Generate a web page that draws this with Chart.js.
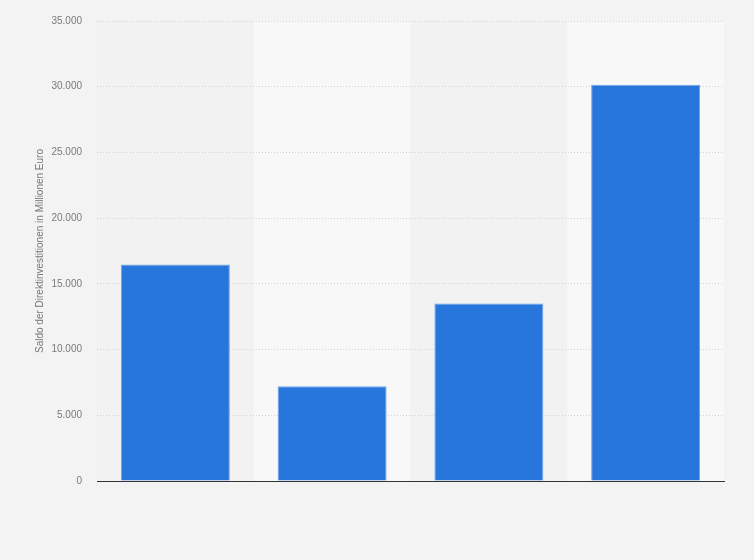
<!DOCTYPE html>
<html>
<head>
<meta charset="utf-8">
<script src="https://cdn.jsdelivr.net/npm/chart.js@4/dist/chart.umd.min.js"></script>
<style>
  html, body { margin: 0; padding: 0; background: #f3f3f3; }
  #wrap { width: 754px; height: 560px; }
</style>
</head>
<body>
<div id="wrap"><canvas id="chart"></canvas></div>
<script>
// categories are not labelled in the picture
const categories = ['', ' ', '  ', '   '];
const saldo = [16480, 7210, 13510, 30140];
const yTicks = [0, 5000, 10000, 15000, 20000, 25000, 30000, 35000];
const yTitle = 'Saldo der Direktinvestitionen in Millionen Euro';

function formatDe(v) {
    return String(v).replace(/\B(?=(\d{3})+(?!\d))/g, '.');
}

// background and alternating column bands
const bandPlugin = {
    id: 'bands',
    beforeDraw(chart) {
        const ctx = chart.ctx;
        const area = chart.chartArea;
        const x = chart.scales.x;
        ctx.save();
        ctx.fillStyle = '#f3f3f3';
        ctx.fillRect(0, 0, chart.width, chart.height);
        const step = (area.right - area.left) / categories.length;
        categories.forEach((c, i) => {
            const mid = x.getPixelForValue(i);
            ctx.fillStyle = i % 2 === 1 ? '#f8f8f8' : '#f2f2f2';
            ctx.fillRect(mid - step / 2, area.top, step, area.bottom - area.top);
        });
        ctx.restore();
    }
};

new Chart(document.getElementById('chart'), {
    type: 'bar',
    data: {
        labels: categories,
        datasets: [{
            data: saldo,
            backgroundColor: '#2776db',
            borderColor: '#6ea3ea',
            borderWidth: 1,
            barPercentage: 0.695,
            categoryPercentage: 1.0
        }]
    },
    options: {
        responsive: true,
        maintainAspectRatio: false,
        animation: false,
        layout: { padding: { top: 20, right: 30, bottom: 0, left: 0 } },
        plugins: {
            legend: { display: false },
            tooltip: { enabled: false }
        },
        scales: {
            x: {
                ticks: { display: false },
                grid: { display: false, drawTicks: false },
                border: { display: true, color: '#333333', width: 1 },
                afterFit(scale) { scale.height = 79; }
            },
            y: {
                min: 0,
                max: 35000,
                afterBuildTicks(scale) {
                    scale.ticks = yTicks.map(v => ({ value: v }));
                },
                ticks: {
                    color: '#7a7a7a',
                    padding: 15,
                    font: { family: 'Liberation Sans, Arial, sans-serif', size: 10 },
                    callback: v => formatDe(v)
                },
                grid: {
                    color: '#d2d2d2',
                    drawTicks: false
                },
                border: { display: false, dash: [1, 2] },
                title: {
                    display: true,
                    text: yTitle,
                    color: '#777777',
                    font: { family: 'Liberation Sans, Arial, sans-serif', size: 10 },
                    padding: { top: 34, bottom: 0 }
                },
                afterFit(scale) { scale.width = 97; }
            }
        }
    },
    plugins: [bandPlugin]
});
</script>
</body>
</html>
